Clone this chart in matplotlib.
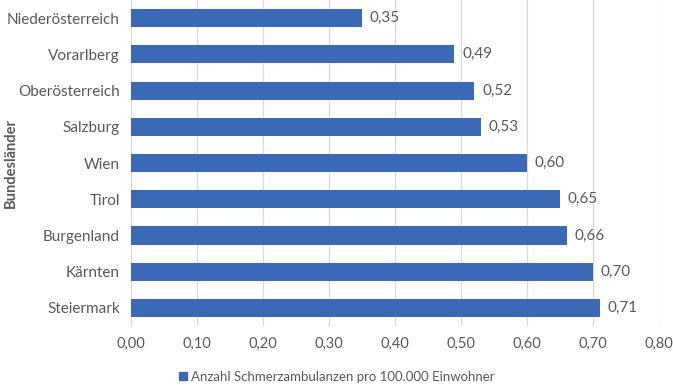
import matplotlib.pyplot as plt
from matplotlib.patches import Patch
from matplotlib.ticker import FuncFormatter

plt.rcParams['font.family'] = ['Lato', 'DejaVu Sans']

laender = ['Niederösterreich', 'Vorarlberg', 'Oberösterreich', 'Salzburg', 'Wien',
           'Tirol', 'Burgenland', 'Kärnten', 'Steiermark']
werte = [0.35, 0.49, 0.52, 0.53, 0.60, 0.65, 0.66, 0.70, 0.71]
serie = 'Anzahl Schmerzambulanzen pro 100.000 Einwohner'

BLUE = '#3C69B5'
INK = '#595959'
GRID = '#D9D9D9'

fig = plt.figure(figsize=(6.73, 3.85), dpi=100)
ax = fig.add_axes([0.1947, 0.153, 0.7845, 0.847])

ypos = list(range(len(laender)))
ax.barh(ypos, werte, height=0.5, color=BLUE, zorder=3)
ax.set_ylim(len(laender) - 0.5, -0.5)
ax.set_yticks(ypos)
ax.set_yticklabels(laender, fontsize=11)

ax.set_xlim(0, 0.8)
ax.set_xticks([i / 10 for i in range(9)])
ax.xaxis.set_major_formatter(FuncFormatter(lambda v, _: f'{v:.2f}'.replace('.', ',')))
ax.grid(axis='x', color=GRID, linewidth=0.9, zorder=0)

for y, v in zip(ypos, werte):
    ax.text(v + 0.012, y, f'{v:.2f}'.replace('.', ','), va='center', ha='left',
            fontsize=11, color=INK)

for s in ['top', 'right', 'bottom']:
    ax.spines[s].set_visible(False)
ax.spines['left'].set_color(GRID)
ax.tick_params(axis='y', length=0, labelcolor=INK, pad=8)
ax.tick_params(axis='x', length=0, labelsize=10.5, labelcolor=INK, pad=8)

fig.text(0.006, 0.577, 'Bundesländer', rotation=90, ha='left', va='center',
         fontsize=10.5, fontweight='bold', color=INK)

fig.legend(handles=[Patch(color=BLUE, label=serie)], loc='center',
           bbox_to_anchor=(0.5, 0.021), frameon=False, fontsize=9.5,
           handlelength=0.6, handleheight=0.6, handletextpad=0.3,
           borderpad=0, labelcolor=INK)

fig.savefig('out.png', dpi=100)
